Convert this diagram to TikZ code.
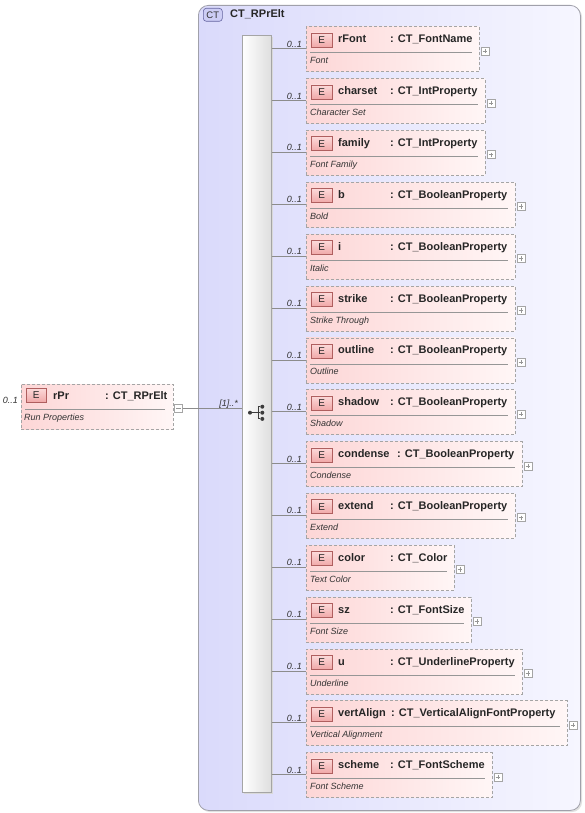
\documentclass[tikz,border=0pt]{standalone}
\usepackage{fontspec}
\setmainfont{Liberation Sans}
\usetikzlibrary{calc}
\definecolor{ctL}{RGB}{218,218,251}
\definecolor{ctR}{RGB}{246,246,255}
\definecolor{ctBorder}{RGB}{160,160,170}
\definecolor{boxBorder}{RGB}{165,165,165}
\definecolor{pinkL}{RGB}{253,214,214}
\definecolor{pinkR}{RGB}{255,246,246}
\definecolor{eTop}{RGB}{252,218,218}
\definecolor{eBot}{RGB}{240,168,168}
\definecolor{eBorder}{RGB}{175,95,95}
\definecolor{sepGray}{RGB}{150,150,150}
\definecolor{connGray}{RGB}{140,140,140}
\definecolor{ctBadge}{RGB}{205,205,245}
\definecolor{ctBadgeBorder}{RGB}{100,100,160}
\definecolor{symGray}{RGB}{60,60,60}
\tikzset{
  elbox/.style={draw=boxBorder, dash pattern=on 3pt off 2pt, left color=pinkL, right color=pinkR,
    minimum height=45pt, anchor=north west, inner sep=0pt, outer sep=0pt, line width=0.8pt},
  ebadge/.style={draw=eBorder, top color=eTop, bottom color=eBot, minimum width=21pt, minimum height=14pt,
    inner sep=0pt, anchor=north west, font=\fontsize{10}{12}\selectfont, text=black!85},
  nametxt/.style={anchor=base west, inner sep=0pt, font=\fontsize{11}{13}\selectfont\bfseries, text=black!85},
  desctxt/.style={anchor=base west, inner sep=0pt, font=\fontsize{9}{11}\selectfont\itshape, text=black!80},
  cardtxt/.style={anchor=base east, inner sep=0pt, font=\fontsize{9}{11}\selectfont\itshape, text=black!80},
  sepline/.style={draw=sepGray, line width=0.8pt},
  conn/.style={draw=connGray, line width=0.8pt},
  pmbox/.style={draw=boxBorder, fill=white, minimum size=8pt, inner sep=0pt, anchor=north west, line width=0.6pt},
  plusbox/.style={pmbox, path picture={
      \draw[sepGray, line width=0.6pt] ([xshift=1.8pt]path picture bounding box.west) -- ([xshift=-1.8pt]path picture bounding box.east);
      \draw[sepGray, line width=0.6pt] ([yshift=-1.8pt]path picture bounding box.north) -- ([yshift=1.8pt]path picture bounding box.south);}},
  minusbox/.style={pmbox, path picture={
      \draw[sepGray, line width=0.6pt] ([xshift=1.8pt]path picture bounding box.west) -- ([xshift=-1.8pt]path picture bounding box.east);}},
  seqbar/.style={draw=boxBorder, left color=white, right color=black!13, anchor=north west, inner sep=0pt, line width=0.8pt},
  symdot/.style={circle, fill=symGray, inner sep=0pt, minimum size=4pt}
}
\begin{document}
\begin{tikzpicture}[x=1pt,y=-1pt]
\useasboundingbox (0,0) rectangle (585,813);
\fill[white] (0,0) rectangle (585,813);
% container
\fill[black!12, rounded corners=10pt] (200,7) rectangle (582,812);
\node[draw=ctBorder, rounded corners=10pt, left color=ctL, right color=ctR, minimum width=382pt, minimum height=805pt,
  anchor=north west, inner sep=0pt, line width=0.8pt] (ct) at (198,5) {};
\node[draw=ctBadgeBorder, fill=ctBadge, rounded corners=3pt, minimum width=19pt, minimum height=13pt, inner sep=0pt,
  anchor=north west, font=\fontsize{9.5}{11}\selectfont, text=black!80, line width=0.6pt] (ctb) at (203,8) {CT};
\node[nametxt] (cttitle) at (230,18) {CT\_RPrElt};
% sequence bar
\fill[black!15] (244,37) rectangle (273,794);
\node[seqbar, minimum width=29pt, minimum height=757pt] (seq) at (242,35) {};
% compositor symbol
\node[symdot] (sl) at (250,412.7) {};
\node[symdot] (s1) at (262.3,406.7) {};
\node[symdot] (s2) at (262.3,412.7) {};
\node[symdot] (s3) at (262.3,418.9) {};
\coordinate (sv) at (258,412.7);
\draw[symGray, line width=0.9pt] (sl) -- (sv) (sv |- s1) -- (sv |- s3) (sv |- s1) -- (s1) (sv) -- (s2) (sv |- s3) -- (s3);
% rPr
\node[elbox, minimum width=152pt] (rpr) at (21,384) {};
\node[ebadge, minimum width=20pt] (rprE) at (26,388) {E};
\node[nametxt] (rprN) at (53,399.5) {rPr};
\node[nametxt] (rprT) at (105,399.5) {: CT\_RPrElt};
\draw[sepline] (25,409) -- (165,409);
\node[desctxt] (rprD) at (24,420) {Run Properties};
\node[cardtxt] (rprC) at (18,403.5) {0..1};
\node[minusbox] (rprm) at (174,404) {};
\draw[conn] (rprm.east) -- (seq.west |- rprm.east);
\node[cardtxt] (seqC) at (238,406) {[1]..*};
% children
\foreach \i/\nm/\typ/\ds/\rt/\tpx in {
  0/rFont/CT\_FontName/Font/479/390,
  1/charset/CT\_IntProperty/Character Set/485/390,
  2/family/CT\_IntProperty/Font Family/485/390,
  3/b/CT\_BooleanProperty/Bold/515/390,
  4/i/CT\_BooleanProperty/Italic/515/390,
  5/strike/CT\_BooleanProperty/Strike Through/515/390,
  6/outline/CT\_BooleanProperty/Outline/515/390,
  7/shadow/CT\_BooleanProperty/Shadow/515/390,
  8/condense/CT\_BooleanProperty/Condense/522/397,
  9/extend/CT\_BooleanProperty/Extend/515/390,
  10/color/CT\_Color/Text Color/454/390,
  11/sz/CT\_FontSize/Font Size/471/390,
  12/u/CT\_UnderlineProperty/Underline/522/390,
  13/vertAlign/CT\_VerticalAlignFontProperty/Vertical Alignment/567/391,
  14/scheme/CT\_FontScheme/Font Scheme/492/390}{
  \pgfmathsetmacro{\myTop}{26.8+51.85*\i}
  \pgfmathsetmacro{\myW}{\rt-306}
  \node[elbox, minimum width=\myW pt] (e\i) at (306,\myTop) {};
  \node[ebadge] (eE\i) at (311,\myTop+6) {E};
  \node[nametxt] (eN\i) at (338,\myTop+16) {\nm};
  \node[nametxt] (eT\i) at (\tpx,\myTop+16) {: \typ};
  \draw[sepline] (310,\myTop+26) -- (\rt-7,\myTop+26);
  \node[desctxt] (eD\i) at (310,\myTop+37) {\ds};
  \node[plusbox] (ep\i) at (\rt+1.5,\myTop+20) {};
  \coordinate (c\i) at (306,\myTop+22);
  \draw[conn] (seq.east |- c\i) -- (c\i);
  \node[cardtxt] (eC\i) at (302,\myTop+20.5) {0..1};
}
\end{tikzpicture}
\end{document}
